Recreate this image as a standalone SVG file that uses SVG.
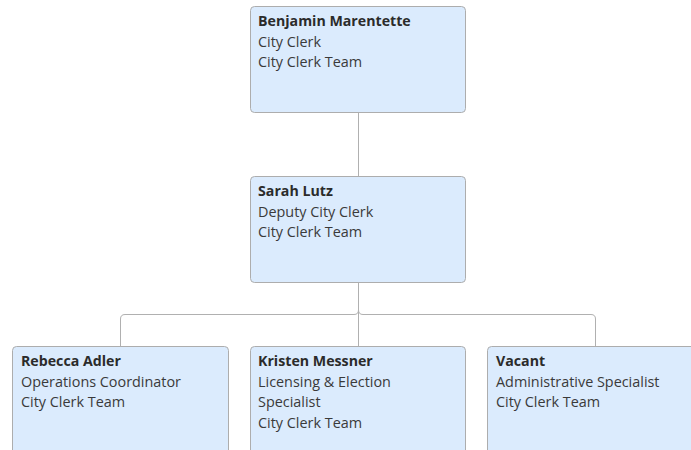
<svg xmlns="http://www.w3.org/2000/svg" width="691" height="450" viewBox="0 0 691 450">
<style>
.box{fill:#dbebfd;stroke:#adadad;stroke-width:1}
.n{font-family:"Open Sans","Liberation Sans",sans-serif;font-size:14.2px;font-weight:700;fill:#2b2b2b}
.t{font-family:"Open Sans","Liberation Sans",sans-serif;font-size:14.4px;fill:#3a3a3a}
.c{fill:none;stroke:#b0b0b0;stroke-width:1}
</style>
<rect width="691" height="450" fill="#ffffff"/>
<g id="connectors">
<path class="c" d="M358.5 112 V176"/>
<path class="c" d="M358.5 282 V310 Q358.5 314.5 354 314.5 H125 Q120.5 314.5 120.5 319 V346"/>
<path class="c" d="M358.5 310 Q358.5 314.5 363 314.5 H591 Q595.5 314.5 595.5 319 V346"/>
<path class="c" d="M358.5 310 V346"/>
</g>
<g id="node-benjamin">
<rect class="box" x="250.5" y="6.5" width="215" height="106" rx="4"/>
<text class="n" x="258" y="26">Benjamin Marentette</text>
<text class="t" x="258" y="47">City Clerk</text>
<text class="t" x="258" y="67">City Clerk Team</text>
</g>
<g id="node-sarah">
<rect class="box" x="250.5" y="176.5" width="215" height="106" rx="4"/>
<text class="n" x="258" y="196">Sarah Lutz</text>
<text class="t" x="258" y="217">Deputy City Clerk</text>
<text class="t" x="258" y="237">City Clerk Team</text>
</g>
<g id="node-rebecca">
<rect class="box" x="12.5" y="346.5" width="216" height="110" rx="4"/>
<text class="n" x="21" y="366">Rebecca Adler</text>
<text class="t" x="21" y="387">Operations Coordinator</text>
<text class="t" x="21" y="407">City Clerk Team</text>
</g>
<g id="node-kristen">
<rect class="box" x="250.5" y="346.5" width="215" height="110" rx="4"/>
<text class="n" x="258" y="366">Kristen Messner</text>
<text class="t" x="258" y="387">Licensing &amp; Election</text>
<text class="t" x="258" y="407">Specialist</text>
<text class="t" x="258" y="428">City Clerk Team</text>
</g>
<g id="node-vacant">
<rect class="box" x="487.5" y="346.5" width="216" height="110" rx="4"/>
<text class="n" x="496" y="366">Vacant</text>
<text class="t" x="496" y="387">Administrative Specialist</text>
<text class="t" x="496" y="407">City Clerk Team</text>
</g>
</svg>
